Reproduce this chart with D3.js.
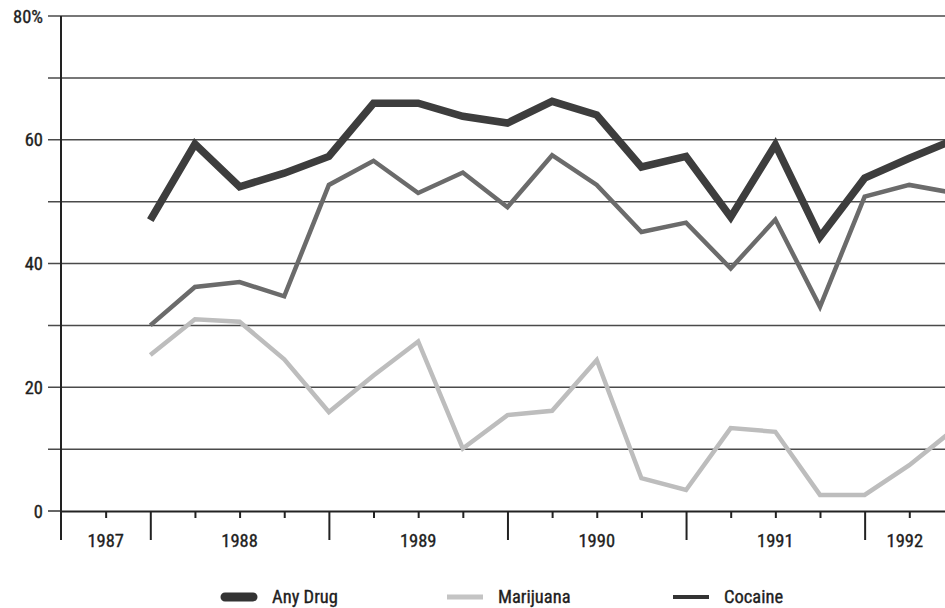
<!DOCTYPE html>
<html>
<head>
<meta charset="utf-8">
<script src="https://cdn.jsdelivr.net/npm/d3@7"></script>
<style>
  html, body { margin: 0; padding: 0; background: #fff; }
  svg { display: block; }
  text { font-family: "Liberation Sans Narrow", "Arial Narrow", "Roboto Condensed", "Liberation Sans", sans-serif; fill: #1e1e1e; stroke: #1e1e1e; stroke-width: 0.35px; }
</style>
</head>
<body>
<script>
// ---- data ----
const quarters = [1988.0, 1988.25, 1988.5, 1988.75, 1989.0, 1989.25, 1989.5, 1989.75,
                  1990.0, 1990.25, 1990.5, 1990.75, 1991.0, 1991.25, 1991.5, 1991.75,
                  1992.0, 1992.25, 1992.5];
const anyDrug   = [47, 59.3, 52.4, 54.6, 57.3, 65.9, 65.9, 63.8, 62.7, 66.2, 64.0, 55.6,
                   57.3, 47.5, 59.2, 44.3, 53.8, 57.0, 60.0];
const marijuana = [25.2, 31.0, 30.6, 24.5, 16.0, 21.9, 27.4, 10.1, 15.5, 16.2, 24.4, 5.3,
                   3.4, 13.4, 12.8, 2.6, 2.6, 7.4, 13.2];
const cocaine   = [30.0, 36.2, 37.0, 34.7, 52.7, 56.6, 51.4, 54.7, 49.1, 57.5, 52.7, 45.1,
                   46.6, 39.2, 47.1, 33.0, 50.8, 52.7, 51.4];
const yearBoundaries = [1987, 1988, 1989, 1990, 1991, 1992, 1993];
const yearLabels = ["1987", "1988", "1989", "1990", "1991", "1992"];
const yLabelValues = [0, 20, 40, 60, 80];
const yGridValues = [0, 10, 20, 30, 40, 50, 60, 70, 80];
const seriesNames = ["Any Drug", "Marijuana", "Cocaine"];

// ---- layout ----
const W = 945, H = 608;
const svg = d3.select("body").append("svg").attr("width", W).attr("height", H);

const x = d3.scaleLinear().domain([1987.5, 1992.45]).range([61, 945]);
const y = d3.scaleLinear().domain([0, 80]).range([511, 16]);

// clip
svg.append("clipPath").attr("id", "plotclip")
  .append("rect").attr("x", 61).attr("y", 0).attr("width", W - 61).attr("height", 520);

// gridlines
svg.append("g").selectAll("line").data(yGridValues.filter(v => v > 0)).join("line")
  .attr("x1", 48).attr("x2", W)
  .attr("y1", d => y(d)).attr("y2", d => y(d))
  .attr("stroke", "#4a4a4a").attr("stroke-width", 1.5);

// y labels
svg.append("g").selectAll("text").data(yLabelValues).join("text")
  .attr("x", 43).attr("y", d => y(d)).attr("dy", "0.36em")
  .attr("text-anchor", "end").attr("font-size", 18.5)
  .text(d => d === 80 ? "80%" : d);

// y axis tick at 0
svg.append("line").attr("x1", 48).attr("x2", 61).attr("y1", y(0)).attr("y2", y(0))
  .attr("stroke", "#333").attr("stroke-width", 1.5);

// x axis: minor quarter ticks
const [x0, x1] = x.domain();
const quarterTicks = d3.range(Math.ceil(x0 * 4), Math.floor(x1 * 4) + 1).map(q => q / 4);
const minorAxis = d3.axisBottom(x).tickValues(quarterTicks.filter(v => v % 1 !== 0 && v > x0))
  .tickSize(7).tickFormat("").tickSizeOuter(0);
const gMinor = svg.append("g").attr("transform", `translate(0,${y(0)})`).call(minorAxis);
gMinor.select(".domain").attr("stroke", "#222").attr("stroke-width", 2);
gMinor.selectAll(".tick line").attr("stroke", "#222").attr("stroke-width", 2);

// major year ticks
const majorAxis = d3.axisBottom(x).tickValues(yearBoundaries.filter(v => v > x0 && v < x1))
  .tickSize(29).tickFormat("").tickSizeOuter(0);
const gMajor = svg.append("g").attr("transform", `translate(0,${y(0)})`).call(majorAxis);
gMajor.select(".domain").remove();
gMajor.selectAll(".tick line").attr("stroke", "#222").attr("stroke-width", 2);

// y axis vertical line
svg.append("line").attr("x1", x(x0)).attr("x2", x(x0)).attr("y1", y(80)).attr("y2", y(0) + 29)
  .attr("stroke", "#222").attr("stroke-width", 2);

// year labels centred on the visible part of each year
svg.append("g").selectAll("text").data(yearLabels).join("text")
  .attr("x", (d, i) => {
    const a = Math.max(yearBoundaries[i], x0), b = Math.min(yearBoundaries[i + 1], x1);
    return x((a + b) / 2);
  })
  .attr("y", 547).attr("text-anchor", "middle").attr("font-size", 18.5)
  .text(d => d);

// lines
const line = d3.line().x(d => x(d[0])).y(d => y(d[1]));
const gLines = svg.append("g").attr("clip-path", "url(#plotclip)");
const mk = vals => quarters.map((q, i) => [q, vals[i]]);
gLines.append("path").datum(mk(marijuana)).attr("d", line)
  .attr("fill", "none").attr("stroke", "#bdbdbd").attr("stroke-width", 4.5).attr("stroke-linejoin", "miter");
gLines.append("path").datum(mk(cocaine)).attr("d", line)
  .attr("fill", "none").attr("stroke", "#6b6b6b").attr("stroke-width", 4.5).attr("stroke-linejoin", "miter");
gLines.append("path").datum(mk(anyDrug)).attr("d", line)
  .attr("fill", "none").attr("stroke", "#3d3d3d").attr("stroke-width", 7.5).attr("stroke-linejoin", "miter");

// legend
const legendItems = [
  { name: seriesNames[0], x: 221, color: "#333", w: 9, cap: "round" },
  { name: seriesNames[1], x: 447, color: "#c4c4c4", w: 5, cap: "butt" },
  { name: seriesNames[2], x: 673, color: "#333", w: 4, cap: "butt" }
];
const gLeg = svg.append("g");
legendItems.forEach(it => {
  gLeg.append("line").attr("x1", it.x + (it.cap === "round" ? 4 : 0)).attr("x2", it.x + 36 - (it.cap === "round" ? 4 : 0))
    .attr("y1", 597).attr("y2", 597)
    .attr("stroke", it.color).attr("stroke-width", it.w).attr("stroke-linecap", it.cap);
  gLeg.append("text").attr("x", it.x + 51).attr("y", 603).attr("font-size", 18.5).text(it.name);
});
</script>
</body>
</html>
